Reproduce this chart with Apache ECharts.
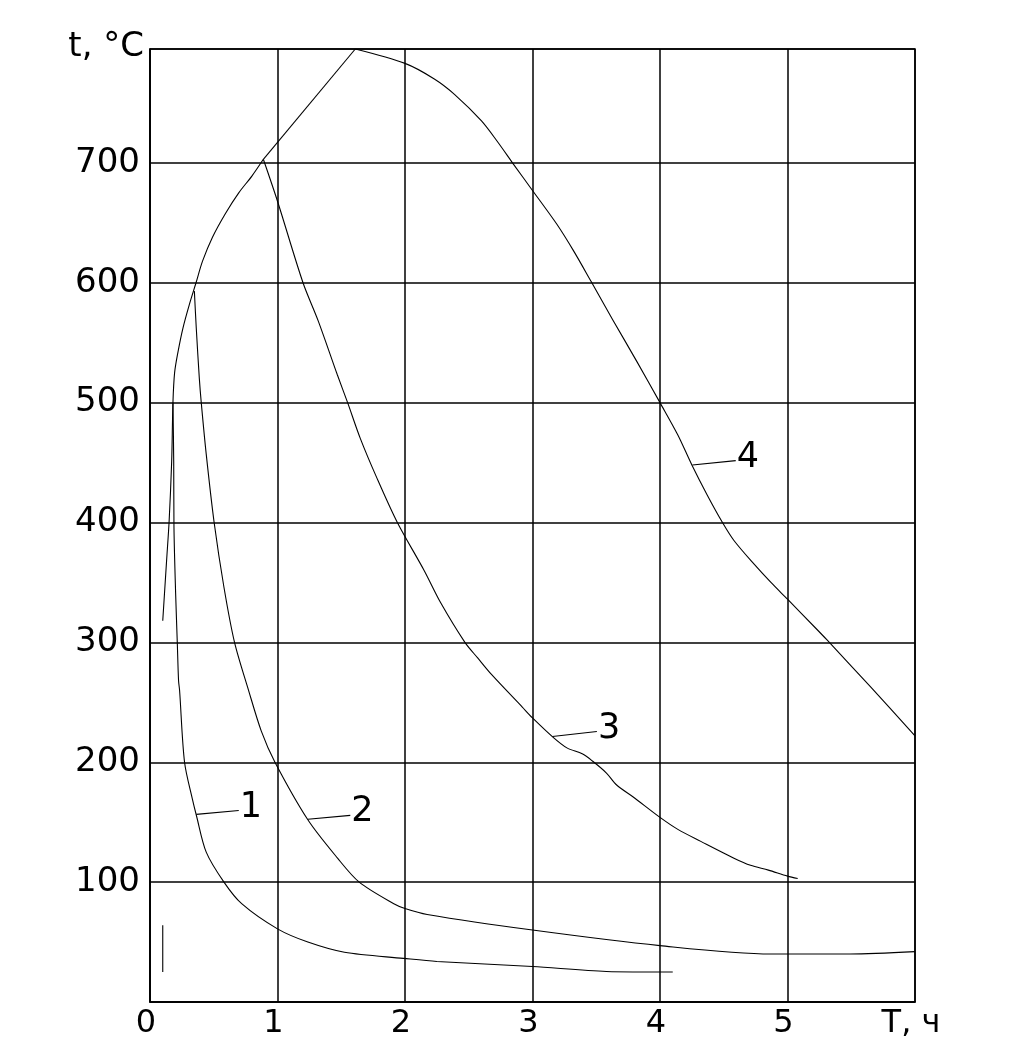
<!DOCTYPE html>
<html>
<head>
<meta charset="utf-8">
<script src="https://cdn.jsdelivr.net/npm/echarts@6/dist/echarts.min.js"></script>
<style>
html,body{margin:0;padding:0;background:#fff;}
#c{width:1028px;height:1062px;}
</style>
</head>
<body>
<div id="c"></div>
<script>
// ---- data (T in hours, t in °C) ----
const xTicks = [0, 1, 2, 3, 4, 5, 6];
const xTickLabels = ['0', '1', '2', '3', '4', '5', 'T, ч'];
const yTickLabels = [100, 200, 300, 400, 500, 600, 700];

// common heating branch (curved part)
const heatT = [0.10, 0.13, 0.15, 0.17, 0.18, 0.193, 0.219, 0.258, 0.309, 0.361, 0.412, 0.49, 0.593, 0.696, 0.799, 0.889];
const heatV = [318, 368, 401, 451, 500, 525, 542, 562, 582, 600, 618, 638, 658, 675, 689, 703];
// heating branch (straight part up to the peak)
const rampT = [0.889, 1.61];
const rampV = [703, 795];

// curve 1
const c1T = [0.18, 0.186, 0.188, 0.201, 0.214, 0.224, 0.232, 0.271, 0.333, 0.363, 0.441, 0.58, 0.719, 1.0, 1.238, 1.525, 1.988, 2.25, 3.0, 3.58, 4.1];
const c1V = [500, 451, 396, 341, 300, 268, 260, 200, 169, 156, 125, 100, 82, 61, 50, 41.5, 36.4, 33.8, 29.6, 25.5, 25];

// curve 2
const c2T = [0.348, 0.363, 0.387, 0.402, 0.441, 0.503, 0.58, 0.663, 0.773, 0.873, 0.98, 1.238, 1.471, 1.641, 1.912, 2.0, 2.174, 3.0, 4.0, 4.87, 5.49, 6.0];
const c2V = [593, 562, 520, 500, 457, 400, 346, 300, 260, 226, 200, 152, 120, 100, 82, 78, 73, 60, 47, 40, 40, 42];

// curve 3
const c3T = [0.889, 1.0, 1.2, 1.32, 1.47, 1.55, 1.65, 1.78, 1.94, 2.15, 2.28, 2.47, 2.57, 2.68, 2.92, 3.0, 3.16, 3.27, 3.39, 3.47, 3.58, 3.66, 3.79, 4.0, 4.14, 4.32, 4.58, 4.71, 4.85, 5.0, 5.08];
const c3V = [703, 668, 600, 568, 523, 500, 470, 437, 400, 360, 333, 300, 287, 273, 246, 237, 221, 212, 207, 201, 191, 181, 171, 154, 144, 134, 120, 114, 110, 105, 103];

// curve 4
const c4T = [1.61, 2.0, 2.23, 2.39, 2.6, 2.73, 2.85, 3.0, 3.19, 3.32, 3.46, 3.63, 3.82, 4.0, 4.14, 4.25, 4.37, 4.49, 4.58, 4.74, 4.87, 5.0, 5.22, 5.31, 5.65, 6.0];
const c4V = [795, 783, 770, 757, 735, 717, 699, 677, 649, 627, 601, 569, 534, 500, 473, 448, 423, 400, 385, 365, 350, 336, 312, 302, 263, 222];

// short stroke near origin
const strokeT = [0.10, 0.10];
const strokeV = [25, 64];

// curve number labels and their leader lines
const curveNames = ['1', '2', '3', '4'];
const leaderT = [[0.363, 0.696], [1.238, 1.571], [3.156, 3.505], [4.254, 4.594]];
const leaderV = [[156.5, 159.8], [152.4, 155.7], [221.5, 225.6], [448, 451.6]];

// ---- chart ----
const FONT = 'DejaVu Sans';
const pair = (xs, ys) => xs.map((x, i) => [x, ys[i]]);
const lineStyle = { color: '#000', width: 1.1 };

const series = [
  { data: pair(heatT, heatV), smooth: 0.3 },
  { data: pair(rampT, rampV), smooth: false },
  { data: pair(c1T, c1V), smooth: 0.3 },
  { data: pair(c2T, c2V), smooth: 0.3 },
  { data: pair(c3T, c3V), smooth: 0.3 },
  { data: pair(c4T, c4V), smooth: 0.3 },
  { data: pair(strokeT, strokeV), smooth: false }
].map(s => Object.assign({
  type: 'line', showSymbol: false, symbol: 'none', lineStyle: lineStyle,
  silent: true, z: 3
}, s));

curveNames.forEach((n, i) => {
  series.push({
    type: 'line', symbol: 'none', showSymbol: false, silent: true, z: 4,
    lineStyle: lineStyle,
    data: pair(leaderT[i], leaderV[i]),
    endLabel: {
      show: true, formatter: n, distance: 1, offset: [0, -3],
      fontFamily: FONT, fontSize: 35, color: '#000'
    }
  });
});

const chart = echarts.init(document.getElementById('c'), null, { renderer: 'canvas' });
chart.setOption({
  backgroundColor: '#fff',
  animation: false,
  grid: {
    left: 150, right: 113, top: 49, bottom: 60,
    show: true, borderColor: '#000', borderWidth: 1.5
  },
  xAxis: {
    type: 'value', min: 0, max: 6, interval: 1,
    axisLine: { show: true, lineStyle: { color: '#000', width: 1.5 } },
    axisTick: { show: false },
    splitLine: { show: true, lineStyle: { color: '#000', width: 1.5 } },
    axisLabel: {
      fontFamily: FONT, fontSize: 32, color: '#000', margin: 6,
      padding: [0, 8, 0, 0],
      showMaxLabel: true, showMinLabel: true,
      formatter: v => { const i = xTicks.indexOf(v); return i >= 0 ? xTickLabels[i] : ''; }
    }
  },
  yAxis: {
    type: 'value', min: 0, max: 795, interval: 100,
    name: 't, °C', nameLocation: 'end', nameGap: 2,
    nameTextStyle: {
      fontFamily: FONT, fontSize: 34, color: '#000',
      align: 'right', verticalAlign: 'middle', padding: [0, 6, 0, 0]
    },
    axisLine: { show: true, lineStyle: { color: '#000', width: 1.5 } },
    axisTick: { show: false },
    splitLine: { show: true, lineStyle: { color: '#000', width: 1.5 } },
    axisLabel: {
      fontFamily: FONT, fontSize: 34, color: '#000', margin: 10,
      formatter: v => yTickLabels.indexOf(v) >= 0 ? String(v) : ''
    }
  },
  series: series
});
</script>
</body>
</html>
